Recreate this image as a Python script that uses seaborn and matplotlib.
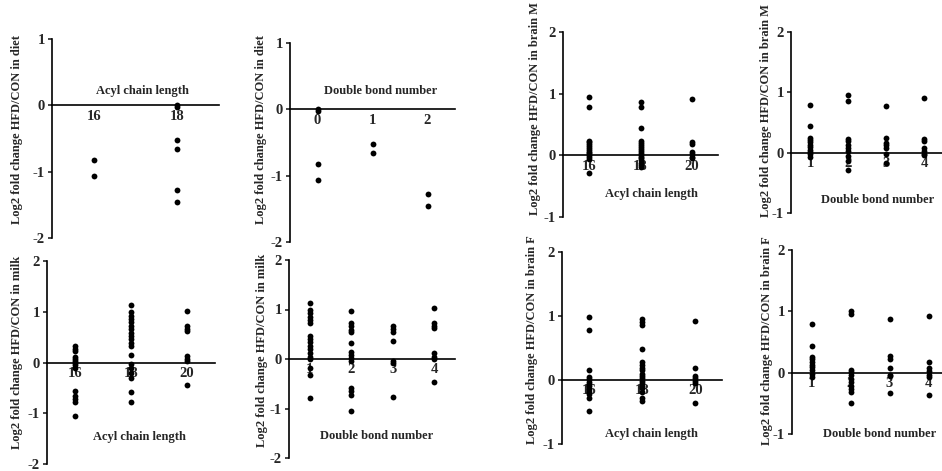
# Log2 fold change HFD/CON by acyl chain length and double bond number
import pandas as pd
import seaborn as sns
import matplotlib.pyplot as plt

# ---- data ----
acyl_groups = ['16', '18', '20']
diet_acyl_groups = ['16', '18']
diet_db_groups = ['0', '1', '2']
db_groups = ['1', '2', '3', '4']

diet_acyl_vals = [[-0.82, -1.07],
                  [-0.02, 0.0, -0.52, -0.66, -1.28, -1.46]]
diet_db_vals = [[-0.02, 0.0, -0.82, -1.07],
                [-0.52, -0.66],
                [-1.28, -1.46]]

milk_acyl_vals = [[0.32, 0.26, 0.22, 0.10, 0.06, 0.03, 0.0, -0.05, -0.10,
                   -0.57, -0.66, -0.72, -0.77, -1.05],
                  [1.13, 0.99, 0.92, 0.86, 0.79, 0.72, 0.66, 0.59, 0.53, 0.46,
                   0.39, 0.33, 0.14, -0.03, -0.10, -0.20, -0.30, -0.59, -0.77],
                  [1.02, 0.72, 0.66, 0.62, 0.13, 0.07, 0.03, -0.44]]
milk_db_vals = [[1.14, 0.98, 0.92, 0.85, 0.79, 0.73, 0.47, 0.40, 0.34, 0.27,
                 0.20, 0.13, 0.05, -0.01, -0.18, -0.32, -0.79],
                [0.96, 0.73, 0.66, 0.59, 0.54, 0.32, 0.15, 0.09, 0.02, -0.05,
                 -0.59, -0.65, -0.72, -1.06],
                [0.67, 0.61, 0.54, 0.37, -0.05, -0.09, -0.77],
                [1.03, 0.73, 0.66, 0.63, 0.12, 0.05, 0.0, -0.47]]

brainM_acyl_vals = [[0.95, 0.79, 0.24, 0.21, 0.18, 0.15, 0.12, 0.09, 0.06, 0.03,
                     0.0, -0.03, -0.06, -0.28],
                    [0.86, 0.78, 0.44, 0.24, 0.20, 0.16, 0.13, 0.10, 0.07, 0.04,
                     0.01, -0.02, -0.05, -0.08, -0.12, -0.16, -0.19],
                    [0.91, 0.22, 0.19, 0.05, 0.02, -0.02, -0.04]]
brainM_db_vals = [[0.79, 0.45, 0.25, 0.21, 0.18, 0.13, 0.09, 0.05, 0.01, -0.03, -0.08],
                  [0.96, 0.85, 0.23, 0.19, 0.13, 0.08, 0.02, -0.06, -0.14, -0.28],
                  [0.77, 0.25, 0.16, 0.12, 0.08, -0.03, -0.17],
                  [0.91, 0.23, 0.20, 0.07, 0.02, -0.02, -0.04]]

brainF_acyl_vals = [[0.99, 0.78, 0.16, 0.05, 0.02, -0.03, -0.07, -0.10, -0.14,
                     -0.18, -0.22, -0.28, -0.49],
                    [0.96, 0.91, 0.86, 0.48, 0.28, 0.23, 0.19, 0.16, 0.10, 0.07,
                     0.03, -0.02, -0.05, -0.09, -0.13, -0.19, -0.28, -0.33],
                    [0.92, 0.19, 0.07, 0.03, -0.02, -0.05, -0.36]]
brainF_db_vals = [[0.80, 0.44, 0.25, 0.22, 0.17, 0.13, 0.09, 0.04, -0.02, -0.07],
                  [1.00, 0.96, 0.05, 0.01, -0.04, -0.10, -0.15, -0.21, -0.26, -0.31, -0.50],
                  [0.87, 0.27, 0.23, 0.08, -0.03, -0.05, -0.33],
                  [0.92, 0.18, 0.07, 0.02, -0.04, -0.07, -0.37]]

ticks_diet = [-2, -1, 0, 1]
ticks_milk = [-2, -1, 0, 1, 2]
ticks_brain = [-1, 0, 1, 2]

sns.set_style('ticks')
plt.rcParams['font.family'] = ['Liberation Serif', 'DejaVu Serif']
plt.rcParams['font.weight'] = 'bold'
plt.rcParams['axes.unicode_minus'] = False

W, H = 942, 471
fig = plt.figure(figsize=(W / 100, H / 100), dpi=100)


def px(x, y):
    return x / W, 1 - y / H


# (groups, values, tissue, xlabel, ticks, axes box px [x0, x1, ytop, ybot], ylabel px, xlabel px)
panels = [
    (diet_acyl_groups, diet_acyl_vals, 'diet', 'Acyl chain length', ticks_diet,
     (52, 219, 39, 238), (17, 130), (142, 91)),
    (diet_db_groups, diet_db_vals, 'diet', 'Double bond number', ticks_diet,
     (290, 455, 43, 242), (261, 130), (381, 91)),
    (acyl_groups, milk_acyl_vals, 'milk', 'Acyl chain length', ticks_milk,
     (47, 215, 261, 464), (17, 352), (139, 437)),
    (db_groups, milk_db_vals, 'milk', 'Double bond number', ticks_milk,
     (289, 455, 260, 458), (262, 350), (377, 436)),
    (acyl_groups, brainM_acyl_vals, 'brain M', 'Acyl chain length', ticks_brain,
     (563, 718, 32, 217), (535, 109), (651, 194)),
    (db_groups, brainM_db_vals, 'brain M', 'Double bond number', ticks_brain,
     (791, 943, 32, 213), (766, 111), (878, 200)),
    (acyl_groups, brainF_acyl_vals, 'brain F', 'Acyl chain length', ticks_brain,
     (562, 722, 252, 444), (532, 340), (651, 434)),
    (db_groups, brainF_db_vals, 'brain F', 'Double bond number', ticks_brain,
     (792, 948, 250, 434), (767, 341), (880, 434)),
]

for groups, vals, tissue, xlab, yticks, (x0, x1, yt, yb), ylpos, xlpos in panels:
    ax = fig.add_axes([x0 / W, 1 - yb / H, (x1 - x0) / W, (yb - yt) / H])
    df = pd.DataFrame({
        'group': [g for g, v in zip(groups, vals) for _ in v],
        'value': [y for v in vals for y in v],
    })
    sns.stripplot(data=df, x='group', y='value', order=groups, jitter=False,
                  color='black', size=4.2, linewidth=0, zorder=3, ax=ax)
    ax.set_xlim(-0.5, len(groups) - 0.5)
    ax.set_ylim(yticks[0], yticks[-1])
    ax.set_yticks(yticks)
    ax.set_axisbelow(True)
    sns.despine(ax=ax)
    ax.spines['bottom'].set_position(('data', 0))
    for s in ('left', 'bottom'):
        ax.spines[s].set_linewidth(1.2)
        ax.spines[s].set_color('black')
    ax.tick_params(axis='x', length=0, pad=3, labelsize=10.5)
    ax.tick_params(axis='y', length=3, width=1.2, pad=2, labelsize=10.5)
    for lab in ax.get_xticklabels() + ax.get_yticklabels():
        lab.set_fontweight('bold')
    ax.set_ylabel(f'Log2 fold change HFD/CON in {tissue}', fontsize=9,
                  fontweight='bold', va='center', ha='center')
    ax.yaxis.set_label_coords(*px(*ylpos), transform=fig.transFigure)
    ax.set_xlabel(xlab, fontsize=9, fontweight='bold', va='center', ha='center')
    ax.xaxis.set_label_coords(*px(*xlpos), transform=fig.transFigure)

fig.savefig('out.png', dpi=100)
